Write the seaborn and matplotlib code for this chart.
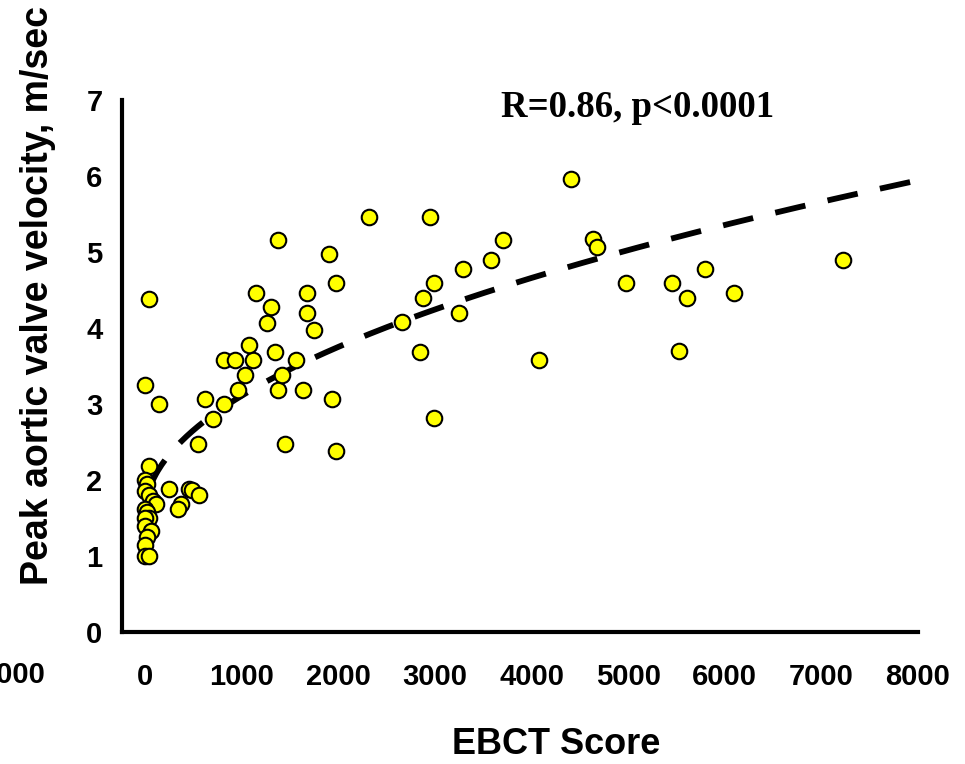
import numpy as np
import matplotlib
matplotlib.use("Agg")
import matplotlib.pyplot as plt
import seaborn as sns

# EBCT score vs peak aortic valve velocity
ebct = [
    40, 0, 20, 0, 40, 80, 110, 0, 20, 40, 0, 0, 60, 20, 0, 0, 40,
    35, 0, 140,
    250, 450, 490, 560, 370, 340,
    552, 700, 624, 811, 811, 932, 1115, 966, 1035, 1080, 1149, 1263,
    1304, 1339, 1377, 1377, 1415, 1449, 1560, 1639, 1680, 1680, 1750,
    1905, 1936, 1977, 1977, 2312, 2657, 2840, 2871, 2950, 2985, 2985,
    3247, 3289, 3585, 3699, 4075, 4410, 4634, 4682, 4976, 5455, 5531,
    5611, 5800, 6097, 7222,
]
velocity = [
    2.18, 2.0, 1.95, 1.85, 1.8, 1.72, 1.68, 1.62, 1.58, 1.5, 1.5, 1.4,
    1.33, 1.25, 1.15, 1.0, 1.0,
    4.38, 3.25, 3.0,
    1.88, 1.88, 1.87, 1.8, 1.68, 1.62,
    2.48, 2.8, 3.07, 3.0, 3.58, 3.58, 3.58, 3.18, 3.38, 3.78, 4.46, 4.07,
    4.27, 3.69, 5.16, 3.18, 3.38, 2.48, 3.58, 3.18, 4.46, 4.20, 3.97,
    4.97, 3.07, 4.59, 2.38, 5.46, 4.08, 3.69, 4.39, 5.46, 4.59, 2.81,
    4.20, 4.78, 4.89, 5.16, 3.58, 5.96, 5.17, 5.07, 4.59, 4.59, 3.70,
    4.39, 4.78, 4.46, 4.89,
]

# trend curve: v = a + b * sqrt(score)
TREND_A = 1.56
TREND_B = 0.049
TREND_RANGE = (50, 8000)

x_ticks = [0, 1000, 2000, 3000, 4000, 5000, 6000, 7000, 8000]
y_ticks = [0, 1, 2, 3, 4, 5, 6, 7]

# ─────────────────────────────────────────────
#  THEME
# ─────────────────────────────────────────────
sns.set_theme(style="white")
plt.rcParams["font.family"] = ["Liberation Sans", "DejaVu Sans"]

fig = plt.figure(figsize=(9.65, 7.64), dpi=100)
fig.patch.set_facecolor("white")
ax = fig.add_axes([0.1264, 0.1728, 0.8249, 0.6963])

# dashed trend line
xs = np.linspace(*TREND_RANGE, 400)
ax.plot(xs, TREND_A + TREND_B * np.sqrt(xs), color="black", lw=4.2,
        dashes=(5.3, 3.9), dash_capstyle="butt", zorder=2)

# scatter points
sns.scatterplot(x=ebct, y=velocity, ax=ax, s=125, color="#FFFF00",
                edgecolor="black", linewidth=1.5, zorder=3, legend=False)

ax.set_xlim(-240, 8000)
ax.set_ylim(0, 7)
ax.set_xticks(x_ticks)
ax.set_yticks(y_ticks)

for side in ["top", "right"]:
    ax.spines[side].set_visible(False)
for side in ["left", "bottom"]:
    ax.spines[side].set_linewidth(3)
    ax.spines[side].set_color("black")

ax.tick_params(axis="both", direction="out", length=7, width=3,
               color="black", labelsize=21, labelcolor="black")
ax.tick_params(axis="x", pad=15)
ax.tick_params(axis="y", pad=7)
for lbl in ax.get_xticklabels() + ax.get_yticklabels():
    lbl.set_fontweight("bold")

ax.set_xlabel("EBCT Score", fontsize=26, fontweight="bold", color="black")
ax.set_ylabel("Peak aortic valve velocity, m/sec", fontsize=27,
              fontweight="bold", color="black")
ax.xaxis.set_label_coords(0.545, -0.212)
ax.yaxis.set_label_coords(-0.106, 0.632)
ax.xaxis.label.set_verticalalignment("center")
ax.yaxis.label.set_verticalalignment("center")

ax.text(0.648, 0.985, "R=0.86, p<0.0001", transform=ax.transAxes,
        ha="center", va="center", fontsize=26.5, fontweight="bold",
        family=["Liberation Serif", "DejaVu Serif"], color="black")

# fragment of the neighbouring panel, cut by the left edge
fig.text(45 / 965, 1 - 675 / 764, "8000", ha="right", va="center",
         fontsize=21, fontweight="bold", color="black")

plt.savefig("out.png", dpi=100, facecolor="white")
